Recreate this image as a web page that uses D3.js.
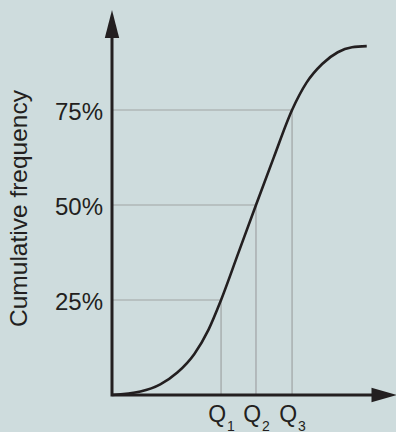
<!DOCTYPE html>
<html><head><meta charset="utf-8">
<script src="https://cdn.jsdelivr.net/npm/d3@7"></script>
<style>
html,body{margin:0;padding:0;background:#cedcdd;}
svg{display:block;}
</style></head>
<body>
<svg id="chart" width="396" height="432"></svg>
<script>
// Data
const curveX = [0, 1.0, 1.7, 2.3, 2.9, 3.4, 3.84, 4.45, 5.07, 5.7, 6.34, 6.85, 7.4, 7.95, 8.45, 8.97];
const curveY = [0, 0.9, 2.8, 5.9, 10.8, 17.2, 25, 37.4, 50, 62.6, 75, 82.2, 87.1, 90.2, 91.5, 91.8];
const quartileLevels = [25, 50, 75];
const quartileX = [3.84, 5.07, 6.34];
const quartileSubs = ["1", "2", "3"];
const yTickLabels = ["25%", "50%", "75%"];
const yTitle = "Cumulative frequency";

const W = 396, H = 432;
const svg = d3.select("#chart");
svg.append("rect").attr("width", W).attr("height", H).attr("fill", "#cedcdd");

const x = d3.scaleLinear().domain([0, 10]).range([112, 396]);
const y = d3.scaleLinear().domain([0, 100]).range([395, 15]);

const ink = "#231f20";
const gridCol = "#9fa3a4";
const font = "'Liberation Sans', Arial, Helvetica, sans-serif";

// reference lines
const g = svg.append("g");
quartileLevels.forEach((lv, i) => {
  g.append("line").attr("x1", x(0)).attr("x2", x(quartileX[i]))
    .attr("y1", y(lv)).attr("y2", y(lv))
    .attr("stroke", gridCol).attr("stroke-width", 1.2);
  g.append("line").attr("x1", x(quartileX[i])).attr("x2", x(quartileX[i]))
    .attr("y1", y(lv)).attr("y2", y(0))
    .attr("stroke", gridCol).attr("stroke-width", 1.2);
});

// curve
const pts = curveX.map((v, i) => [v, curveY[i]]);
svg.append("path")
  .attr("d", d3.line().x(d => x(d[0])).y(d => y(d[1])).curve(d3.curveMonotoneX)(pts))
  .attr("fill", "none").attr("stroke", ink).attr("stroke-width", 2.6);

// Y axis (labels)
const yAxis = d3.axisLeft(y).tickValues(quartileLevels).tickSize(0).tickPadding(9)
  .tickFormat((d, i) => yTickLabels[i]);
const yg = svg.append("g").attr("transform", `translate(${x(0)},0)`).call(yAxis);
yg.select(".domain").remove();
yg.selectAll("text").attr("font-family", font).attr("font-size", 24)
  .attr("fill", ink).attr("dy", "0.4em");

// X axis (labels)
const xAxis = d3.axisBottom(x).tickValues(quartileX).tickSize(0).tickPadding(0)
  .tickFormat(() => "");
const xg = svg.append("g").attr("transform", `translate(0,${y(0)})`).call(xAxis);
xg.select(".domain").remove();
xg.selectAll(".tick text").each(function(d, i) {
  const t = d3.select(this);
  t.attr("y", 26.5).attr("dy", null).attr("font-family", font).attr("font-size", 23)
    .attr("fill", ink).attr("text-anchor", "middle");
  t.append("tspan").text("Q");
  t.append("tspan").attr("font-size", 14).attr("dy", 9).attr("dx", 1).text(quartileSubs[i]);
});

// axis lines with arrows
const axY0 = y(0), axX0 = x(0);
svg.append("path")
  .attr("d", `M${axX0},38 L${axX0},${axY0} L372,${axY0}`)
  .attr("fill", "none").attr("stroke", ink).attr("stroke-width", 3)
  .attr("stroke-linejoin", "miter");
svg.append("path").attr("d", `M${axX0},10 L${axX0 + 7.2},38 L${axX0 - 7.2},38 Z`).attr("fill", ink);
svg.append("path").attr("d", `M397,${axY0} L371.5,${axY0 - 7.3} L371.5,${axY0 + 7.3} Z`).attr("fill", ink);

// Y title
svg.append("text")
  .attr("transform", `translate(27,208.5) rotate(-90)`)
  .attr("text-anchor", "middle")
  .attr("font-family", font).attr("font-size", 24.5).attr("fill", ink)
  .text(yTitle);
</script>
</body></html>
